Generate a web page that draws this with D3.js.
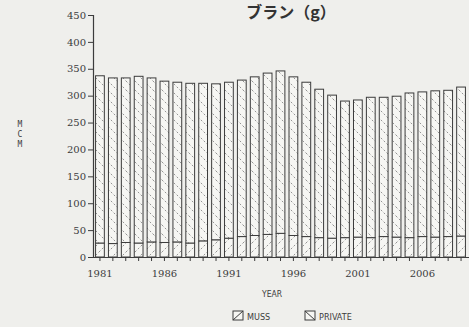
<!DOCTYPE html>
<html>
<head>
<meta charset="utf-8">
<script src="https://cdn.jsdelivr.net/npm/d3@7"></script>
<style>
  html, body { margin: 0; padding: 0; background: #efefec; }
  svg { display: block; }
</style>
</head>
<body>
<svg id="chart" width="469" height="327"></svg>
<script>
// Annual volumes (MCM), 1981-2009
const years = d3.range(1981, 2010);
const mussValues = [26, 25, 27, 26, 28, 27, 28, 26, 30, 32,
                    35, 38, 40, 42, 44, 40, 38, 36, 35, 36,
                    37, 36, 38, 37, 36, 38, 37, 38, 39];
const totalValues = [337, 333, 333, 336, 333, 327, 325, 323, 323, 322,
                     325, 329, 335, 342, 346, 335, 325, 312, 301, 290,
                     292, 297, 297, 299, 305, 307, 309, 310, 316];
const privateValues = totalValues.map((t, i) => t - mussValues[i]);
const yTicks = [0, 50, 100, 150, 200, 250, 300, 350, 400, 450];
const xTickLabels = [1981, 1986, 1991, 1996, 2001, 2006];
const seriesNames = ["MUSS", "PRIVATE"];

const svg = d3.select("#chart");
const ink = "#3c3c3c";
const labelFont = "'DejaVu Serif', 'Liberation Serif', serif";

// hatch patterns: "/" for MUSS, "\" for PRIVATE
const defs = svg.append("defs");
function hatch(id, dir) {
  const p = defs.append("pattern")
    .attr("id", id)
    .attr("patternUnits", "userSpaceOnUse")
    .attr("width", 9).attr("height", 9);
  p.append("rect").attr("width", 9).attr("height", 9).attr("fill", "#f6f6f3");
  p.append("path")
    .attr("d", dir > 0 ? "M0,9 L9,0" : "M0,0 L9,9")
    .attr("stroke", "#7a7a7a").attr("stroke-width", 0.8)
    .attr("stroke-dasharray", "2,2");
}
hatch("hatchMuss", 1);
hatch("hatchPrivate", -1);

const x = d3.scaleBand().domain(years).range([93.5, 467.5]).paddingInner(0.32).paddingOuter(0.16);
const y = d3.scaleLinear().domain([0, 450]).range([257, 15]);

// stacked bars
const stackData = years.map((yr, i) => ({ year: yr, MUSS: mussValues[i], PRIVATE: privateValues[i] }));
const stacked = d3.stack().keys(seriesNames)(stackData);
const fills = { MUSS: "url(#hatchMuss)", PRIVATE: "url(#hatchPrivate)" };

svg.append("g").selectAll("g")
  .data(stacked)
  .join("g")
  .attr("fill", d => fills[d.key])
  .selectAll("rect")
  .data(d => d)
  .join("rect")
  .attr("x", d => x(d.data.year))
  .attr("y", d => y(d[1]))
  .attr("width", x.bandwidth())
  .attr("height", d => y(d[0]) - y(d[1]))
  .attr("stroke", ink)
  .attr("stroke-width", 1);

// y axis
const yAxis = d3.axisLeft(y).tickValues(yTicks).tickSize(5).tickPadding(2);
const gy = svg.append("g").attr("transform", "translate(93,0)").call(yAxis);
gy.select(".domain").attr("stroke", ink).attr("stroke-width", 1.2);
gy.selectAll(".tick line").attr("stroke", ink);
gy.selectAll("text").attr("font-family", labelFont).attr("font-size", 10).attr("fill", ink);

// x axis
const xAxis = d3.axisBottom(x).tickSize(4).tickFormat(d => xTickLabels.includes(d) ? d : "");
const gx = svg.append("g").attr("transform", "translate(0,257)").call(xAxis);
gx.select(".domain").attr("stroke", ink).attr("stroke-width", 1.2).attr("d", "M93,0.5H469");
gx.selectAll(".tick line").attr("stroke", ink);
gx.selectAll("text").attr("font-family", labelFont).attr("font-size", 10).attr("fill", ink).attr("dy", "1.3em");

// title
svg.append("text")
  .attr("x", 291).attr("y", 18)
  .attr("text-anchor", "middle")
  .attr("font-family", "'Noto Sans CJK JP', sans-serif")
  .attr("font-weight", "bold")
  .attr("font-size", 16)
  .attr("fill", "#333")
  .text("ブラン（g）");

// y label, letters stacked vertically
svg.append("g").selectAll("text")
  .data(["M", "C", "M"])
  .join("text")
  .attr("x", 20).attr("y", (d, i) => 127 + i * 10)
  .attr("text-anchor", "middle")
  .attr("font-family", "'DejaVu Sans Mono', monospace")
  .attr("font-size", 8)
  .attr("fill", ink)
  .text(d => d);

// x label
svg.append("text")
  .attr("x", 272).attr("y", 297)
  .attr("text-anchor", "middle")
  .attr("font-family", "'DejaVu Sans Condensed', sans-serif")
  .attr("font-size", 8.5)
  .attr("fill", ink)
  .text("YEAR");

// legend
const legend = svg.append("g").attr("transform", "translate(233,311)");
const legItems = legend.selectAll("g")
  .data(seriesNames)
  .join("g")
  .attr("transform", (d, i) => `translate(${i * 72},0)`);
legItems.append("rect")
  .attr("width", 10).attr("height", 9)
  .attr("fill", "#f6f6f3").attr("stroke", ink);
legItems.append("path")
  .attr("d", (d, i) => i === 0 ? "M0,9 L10,0" : "M0,0 L10,9")
  .attr("stroke", ink);
legItems.append("text")
  .attr("x", 14).attr("y", 8.5)
  .attr("font-family", "'DejaVu Sans Condensed', sans-serif")
  .attr("font-size", 9)
  .attr("fill", ink)
  .text(d => d);
</script>
</body>
</html>
